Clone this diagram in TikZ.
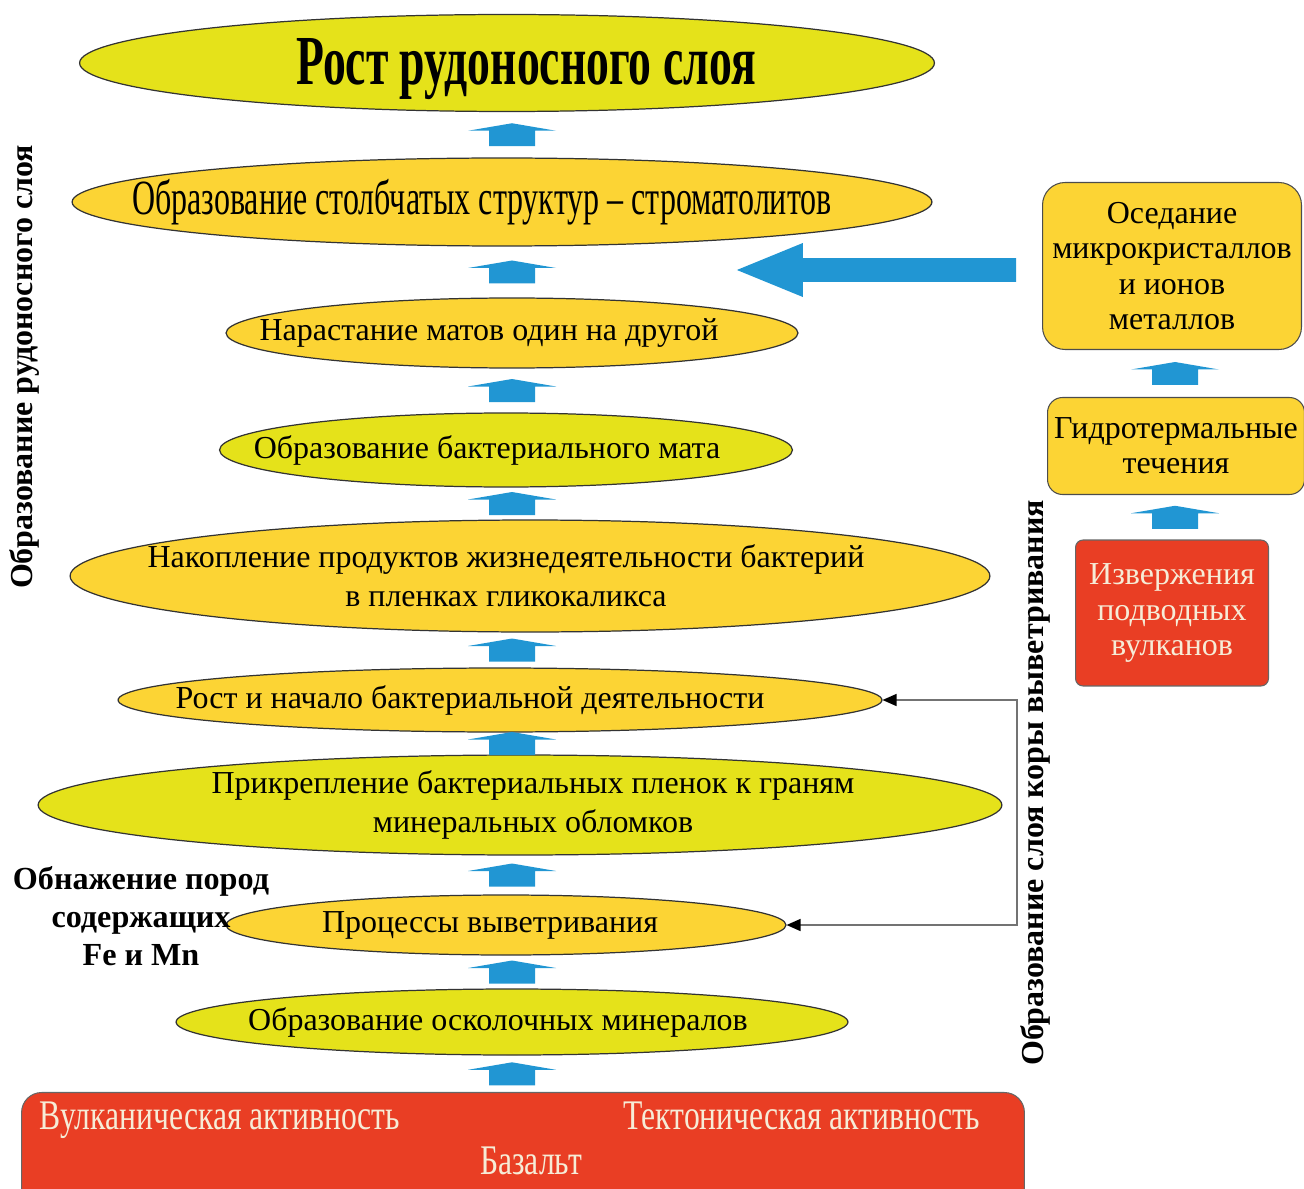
\documentclass[tikz,border=0pt]{standalone}
\usepackage{fontspec}
\setmainfont{Liberation Serif}
\newfontfamily\condfont[FakeStretch=0.65]{Liberation Serif}
\newfontfamily\semicondfont[FakeStretch=0.75]{Liberation Serif}
\usetikzlibrary{positioning, arrows.meta, calc, shapes.geometric}

\definecolor{limefill}{RGB}{229,226,26}
\definecolor{goldfill}{RGB}{252,212,52}
\definecolor{arrowblue}{RGB}{33,150,211}
\definecolor{lavared}{RGB}{233,62,36}
\definecolor{cream}{RGB}{246,236,215}

\tikzset{uparr/.pic={\fill[arrowblue] (-23,11.5) -- (-23,-4) -- (-44,-4) -- (0,-11.5) -- (44,-4) -- (23,-4) -- (23,11.5) -- cycle;}}

\begin{document}
\begin{tikzpicture}[x=0.02cm, y=-0.02cm, font=\fontsize{18.2}{22}\selectfont]
    % Define node styles
    \tikzstyle{stage} = [ellipse, draw=black!80, line width=0.7pt, inner sep=0pt]
    \tikzstyle{limestage} = [stage, fill=limefill]
    \tikzstyle{goldstage} = [stage, fill=goldfill]
    \tikzstyle{sidebox} = [rectangle, rounded corners=0.45cm, draw=black!70, line width=0.6pt, fill=goldfill, align=center, font=\fontsize{18.2}{20}\selectfont]
    \tikzstyle{redbox} = [rectangle, rounded corners=0.15cm, draw=black!60, line width=0.6pt, fill=lavared, text=cream, align=center, font=\fontsize{18.2}{20}\selectfont]
    \tikzstyle{vlabel} = [rotate=90, font=\fontsize{18.2}{22}\selectfont\bfseries]
    \tikzstyle{bartext} = [anchor=base, text=cream, font=\semicondfont\fontsize{24}{28}\selectfont]

    \useasboundingbox (0,0) rectangle (1304,1189);

    % Stages of the ore layer (main column)
    \node[limestage, minimum width=17.1cm, minimum height=1.94cm, label={[font=\condfont\bfseries\fontsize{40}{44}\selectfont, xshift=0.38cm, yshift=-0.12cm]center:Рост рудоносного слоя}] (orelayer) at (507,63) {};
    \node[goldstage, minimum width=17.2cm, minimum height=1.76cm, label={[font=\condfont\fontsize{28}{32}\selectfont, xshift=-0.4cm]center:Образование столбчатых структур – строматолитов}] (stromatolites) at (502,202) {};
    \node[goldstage, minimum width=11.44cm, minimum height=1.4cm, label={[xshift=-0.46cm]center:Нарастание матов один на другой}] (mats) at (512,333) {};
    \node[limestage, minimum width=11.46cm, minimum height=1.48cm, label={[xshift=-0.38cm]center:Образование бактериального мата}] (bacmat) at (506,450) {};
    \node[goldstage, minimum width=18.4cm, minimum height=2.24cm, label={[align=center, xshift=-0.48cm]center:Накопление продуктов жизнедеятельности бактерий\\в пленках гликокаликса}] (products) at (530,576) {};
    \node[goldstage, minimum width=15.28cm, minimum height=1.28cm, label={[xshift=-0.6cm]center:Рост и начало бактериальной деятельности}] (growth) at (500,700) {};
    \node[limestage, minimum width=19.28cm, minimum height=2cm, label={[align=center, xshift=0.26cm]center:Прикрепление бактериальных пленок к граням\\минеральных обломков}] (attach) at (520,805) {};
    \node[goldstage, minimum width=11.2cm, minimum height=1.2cm, label={[xshift=-0.32cm]center:Процессы выветривания}] (weather) at (506,925) {};
    \node[limestage, minimum width=13.44cm, minimum height=1.32cm, label={[xshift=-0.28cm]center:Образование осколочных минералов}] (clastic) at (512,1022) {};

    % Basement bar
    \node[redbox, rounded corners=0.4cm, minimum width=20.06cm, minimum height=2.3cm] (basement) at (523,1150) {};
    \node[bartext] (volcanic) at (220,1129) {Вулканическая активность};
    \node[bartext] (tectonic) at (802,1129) {Тектоническая активность};
    \node[bartext] (basalt) at (531,1174) {Базальт};

    % Side column
    \node[sidebox, minimum width=5.18cm, minimum height=3.34cm] (deposit) at (1172,266) {Оседание\\микрокристаллов\\и ионов\\металлов};
    \node[sidebox, rounded corners=0.3cm, minimum width=5.14cm, minimum height=1.94cm] (hydro) at (1176,446) {Гидротермальные\\течения};
    \node[redbox, minimum width=3.86cm, minimum height=2.92cm] (eruption) at (1172,613) {Извержения\\подводных\\вулканов};

    % Labels
    \node[vlabel] (orelabel) at (25,367) {Образование рудоносного слоя};
    \node[vlabel] (crustlabel) at (1035,783) {Образование слоя коры выветривания};
    \node[font=\fontsize{18.3}{21.8}\selectfont\bfseries, align=center] (exposure) at (141,916) {Обнажение пород\\содержащих\\Fe и Mn};

    % Block arrows between stages
    \coordinate (axis) at (512,0);
    \foreach \lo/\hi in {stromatolites/orelayer, mats/stromatolites, bacmat/mats, products/bacmat, growth/products, attach/growth, weather/attach, clastic/weather, basement/clastic} {
        \path ($(\lo.north)!.5!(\hi.south)$) coordinate (gap);
        \pic at (axis |- gap) {uparr};
    }
    \coordinate (sideaxis) at (1175,0);
    \foreach \lo/\hi in {hydro/deposit, eruption/hydro} {
        \path ($(\lo.north)!.5!(\hi.south)$) coordinate (gap);
        \pic at (sideaxis |- gap) {uparr};
    }

    % Inflow of metals
    \coordinate (bigtip) at (733,270);
    \draw[arrowblue, line width=0.48cm, -{Triangle[length=1.4cm, width=0.96cm]}] ([xshift=-0.52cm, yshift=-0.08cm]deposit.west) -- (bigtip);

    % Feedback from weathering
    \coordinate (riser) at (1017,0);
    \draw[black!55, line width=0.8pt, {Triangle[length=0.28cm, width=0.24cm, color=black]}-{Triangle[length=0.28cm, width=0.24cm, color=black]}] (weather.east) -- (weather.east -| riser) |- (growth.east);
\end{tikzpicture}
\end{document}
